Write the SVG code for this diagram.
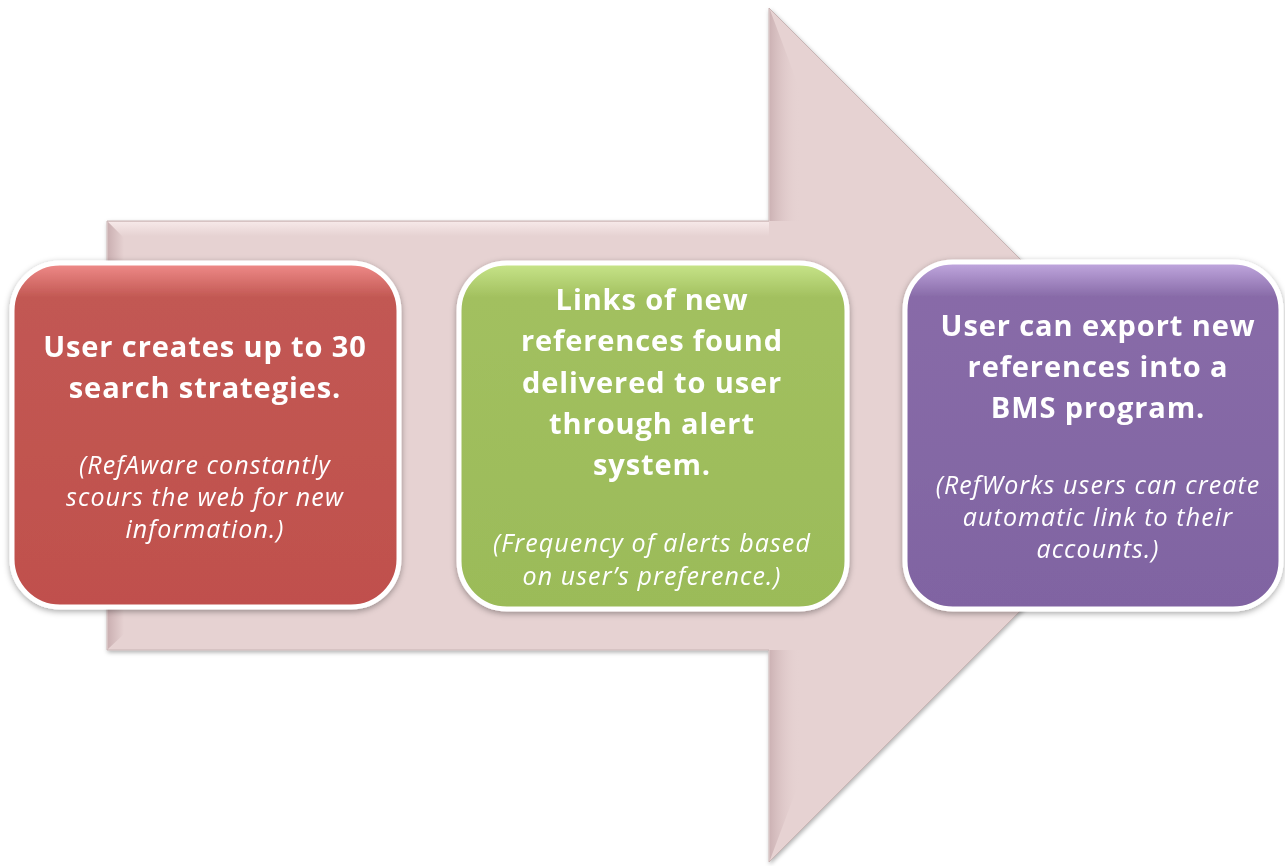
<svg xmlns="http://www.w3.org/2000/svg" width="1285" height="866" viewBox="0 0 1285 866">
<defs>
<linearGradient id="headG" x1="0" y1="0" x2="1" y2="0">
<stop offset="0" stop-color="#CDB3B5"/>
<stop offset="1" stop-color="#E6D2D2" stop-opacity="0"/>
</linearGradient>
<linearGradient id="leftG" x1="0" y1="0" x2="1" y2="0">
<stop offset="0" stop-color="#CBB0B2"/>
<stop offset="1" stop-color="#E6D2D2"/>
</linearGradient>
<linearGradient id="topG" x1="0" y1="0" x2="0" y2="1">
<stop offset="0" stop-color="#F6E8E8"/>
<stop offset="1" stop-color="#E6D2D2"/>
</linearGradient>
<linearGradient id="redG" x1="0" y1="0" x2="0" y2="1">
<stop offset="0" stop-color="#F08C8A"/>
<stop offset="0.1" stop-color="#C25853"/>
<stop offset="1" stop-color="#C0504D"/>
</linearGradient>
<linearGradient id="greenG" x1="0" y1="0" x2="0" y2="1">
<stop offset="0" stop-color="#C8E58A"/>
<stop offset="0.1" stop-color="#A2C05F"/>
<stop offset="1" stop-color="#9BBB59"/>
</linearGradient>
<linearGradient id="purpleG" x1="0" y1="0" x2="0" y2="1">
<stop offset="0" stop-color="#C2A9E0"/>
<stop offset="0.1" stop-color="#886BA8"/>
<stop offset="1" stop-color="#8064A2"/>
</linearGradient>
<filter id="sh" x="-10%" y="-10%" width="120%" height="120%">
<feDropShadow dx="0" dy="2" stdDeviation="3" flood-color="#000" flood-opacity="0.35"/>
</filter>
<filter id="ash" x="-5%" y="-5%" width="110%" height="110%">
<feDropShadow dx="1" dy="2" stdDeviation="2" flood-color="#000" flood-opacity="0.3"/>
</filter>
</defs>
<style>
.box{stroke:#FFFFFF;stroke-width:5}
.t{font-family:"Open Sans","Liberation Sans",sans-serif;font-weight:bold;font-size:29px;letter-spacing:0.9px;fill:#FFFFFF;text-anchor:middle}
.s{font-family:"Open Sans","Liberation Sans",sans-serif;font-style:italic;font-size:25px;letter-spacing:1.1px;fill:#FFFFFF;text-anchor:middle}
</style>
<rect width="1285" height="866" fill="#FFFFFF"/>
<g id="connectors">
<g id="arrow">
<polygon points="107,221 769,221 769,8 1196,435 769,862 769,650 107,650" fill="#E6D2D2" stroke="#C8B4B4" stroke-width="1" filter="url(#ash)"/>
<polygon points="108,222 769,222 769,236 122,236" fill="url(#topG)"/>
<polygon points="108,222 124,238 124,634 108,649" fill="url(#leftG)"/>
<polygon points="770,10 800,90 800,221 770,221" fill="url(#headG)"/>
<polygon points="770,650 800,650 800,780 770,860" fill="url(#headG)"/>
</g>
</g>
<g id="node-red" filter="url(#sh)">
<rect class="box" x="12" y="263" width="387" height="344" rx="48" fill="url(#redG)"/>
<text class="t" x="205" y="357">User creates up to 30</text>
<text class="t" x="205" y="398">search strategies.</text>
<text class="s" x="205" y="474">(RefAware constantly</text>
<text class="s" x="205" y="506">scours the web for new</text>
<text class="s" x="205" y="538">information.)</text>
</g>
<g id="node-green" filter="url(#sh)">
<rect class="box" x="459" y="263" width="388" height="346" rx="48" fill="url(#greenG)"/>
<text class="t" x="652" y="310">Links of new</text>
<text class="t" x="652" y="351">references found</text>
<text class="t" x="652" y="393">delivered to user</text>
<text class="t" x="652" y="434">through alert</text>
<text class="t" x="652" y="475">system.</text>
<text class="s" x="652" y="552">(Frequency of alerts based</text>
<text class="s" x="652" y="585">on user’s preference.)</text>
</g>
<g id="node-purple" filter="url(#sh)">
<rect class="box" x="905" y="262" width="376" height="347" rx="48" fill="url(#purpleG)"/>
<text class="t" x="1098" y="336">User can export new</text>
<text class="t" x="1098" y="377">references into a</text>
<text class="t" x="1098" y="418">BMS program.</text>
<text class="s" x="1098" y="494">(RefWorks users can create</text>
<text class="s" x="1098" y="526">automatic link to their</text>
<text class="s" x="1098" y="558">accounts.)</text>
</g>
</svg>
